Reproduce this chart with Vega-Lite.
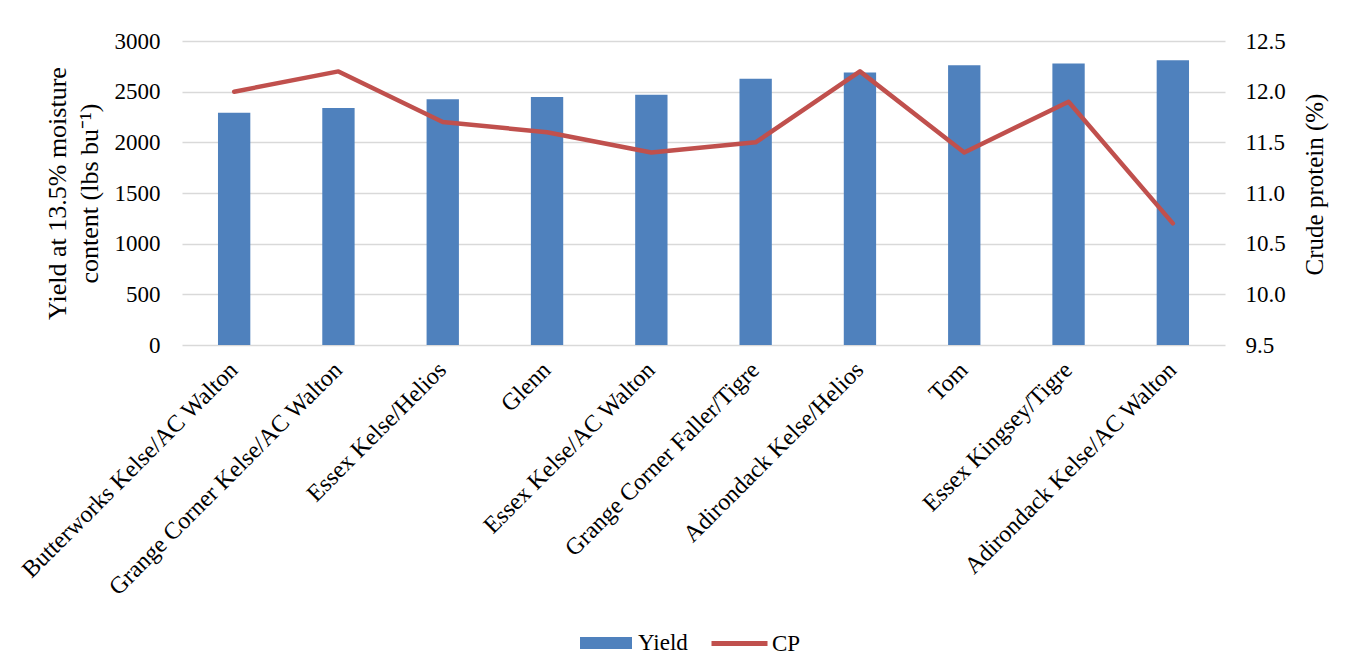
{
  "$schema": "https://vega.github.io/schema/vega-lite/v6.json",
  "width": 1043,
  "height": 304,
  "autosize": {"type": "none"},
  "padding": {"left": 182, "top": 41, "right": 123, "bottom": 327},
  "background": "white",
  "config": {
    "font": "Liberation Serif",
    "view": {"stroke": null},
    "axis": {
      "labelFont": "Liberation Serif",
      "titleFont": "Liberation Serif",
      "labelColor": "#000000",
      "titleColor": "#000000",
      "labelFontSize": 23,
      "titleFontSize": 26,
      "titleFontWeight": "normal",
      "domain": false,
      "ticks": false,
      "gridColor": "#d9d9d9",
      "gridWidth": 1.5
    },
    "legend": {
      "labelFont": "Liberation Serif",
      "labelFontSize": 23,
      "labelColor": "#000000",
      "padding": 0,
      "title": null
    }
  },
  "data": {
    "values": [
      {"site": "Butterworks Kelse/AC Walton", "Yield": 2292, "CP": 12.0},
      {"site": "Grange Corner Kelse/AC Walton", "Yield": 2338, "CP": 12.2},
      {"site": "Essex Kelse/Helios", "Yield": 2424, "CP": 11.7},
      {"site": "Glenn", "Yield": 2447, "CP": 11.6},
      {"site": "Essex Kelse/AC Walton", "Yield": 2470, "CP": 11.4},
      {"site": "Grange Corner Faller/Tigre", "Yield": 2628, "CP": 11.5},
      {"site": "Adirondack Kelse/Helios", "Yield": 2688, "CP": 12.2},
      {"site": "Tom", "Yield": 2760, "CP": 11.4},
      {"site": "Essex Kingsey/Tigre", "Yield": 2777, "CP": 11.9},
      {"site": "Adirondack Kelse/AC Walton", "Yield": 2809, "CP": 10.7}
    ]
  },
  "encoding": {
    "x": {
      "field": "site",
      "type": "nominal",
      "sort": null,
      "scale": {"paddingInner": 0.69, "paddingOuter": 0.345},
      "axis": {
        "title": null,
        "labelAngle": -45,
        "labelAlign": "right",
        "labelBaseline": "middle",
        "labelPadding": 21,
        "labelFontSize": 24,
        "labelLimit": 0,
        "grid": false
      }
    }
  },
  "layer": [
    {
      "mark": {"type": "bar"},
      "encoding": {
        "y": {
          "field": "Yield",
          "type": "quantitative",
          "scale": {"domain": [0, 3000], "nice": false},
          "axis": {
            "title": ["Yield at 13.5% moisture", "content (lbs bu⁻¹)"],
            "values": [0, 500, 1000, 1500, 2000, 2500, 3000],
            "format": "d",
            "labelPadding": 22,
            "titleLineHeight": 32,
            "titlePadding": 12,
            "grid": true
          }
        },
        "fill": {
          "datum": "Yield",
          "type": "nominal",
          "scale": {"range": ["#4F81BD"]},
          "legend": {
            "orient": "none",
            "legendX": 398,
            "legendY": 576,
            "symbolType": "M-1,-0.23H1V0.23H-1Z",
            "symbolSize": 2704,
            "symbolStrokeWidth": 0,
            "labelOffset": 6
          }
        }
      }
    },
    {
      "mark": {"type": "line", "strokeWidth": 4.5, "strokeCap": "round", "strokeJoin": "round"},
      "encoding": {
        "y": {
          "field": "CP",
          "type": "quantitative",
          "scale": {"domain": [9.5, 12.5], "nice": false, "zero": false},
          "axis": {
            "orient": "right",
            "title": "Crude protein (%)",
            "titleAngle": 270,
            "titleBaseline": "top",
            "titleFontSize": 25,
            "titleY": 143,
            "format": ".1f",
            "values": [9.5, 10, 10.5, 11, 11.5, 12, 12.5],
            "labelPadding": 20,
            "titlePadding": 17,
            "grid": false
          }
        },
        "stroke": {
          "datum": "CP",
          "type": "nominal",
          "scale": {"range": ["#C0504D"]},
          "legend": {
            "orient": "none",
            "legendX": 527,
            "legendY": 572,
            "symbolType": "stroke",
            "symbolSize": 3136,
            "symbolStrokeWidth": 5,
            "labelOffset": 2
          }
        }
      }
    }
  ],
  "resolve": {"scale": {"y": "independent", "fill": "independent", "stroke": "independent"}}
}
